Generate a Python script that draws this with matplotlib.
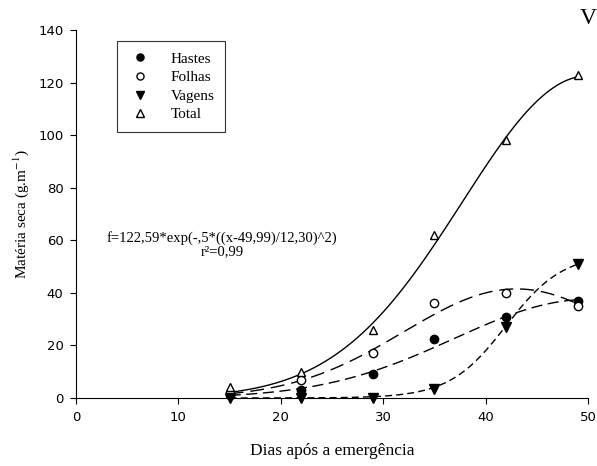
import numpy as np
import matplotlib
matplotlib.use('Agg')
import matplotlib.pyplot as plt

# days after emergence
dias = [15, 22, 29, 35, 42, 49]
hastes = [1, 3, 9, 22.5, 31, 37]
folhas = [2, 7, 17, 36, 40, 35]
vagens = [0, 0, 0, 3.5, 27, 51]
total = [4, 10, 26, 62, 98, 123]

# fitted curve parameters (gaussian: a, x0, b ; logistic: a, x0, k)
p_total = [122.59, 49.99, 12.30]
p_hastes = [37.5, 50.0, 13.0]
p_folhas = [41.5, 43.0, 11.0]
p_vagens = [55.0, 42.0, 0.36]

def gauss(x, a, x0, b):
    return a * np.exp(-.5 * ((x - x0) / b) ** 2)

def logist(x, a, x0, k):
    return a / (1 + np.exp(-k * (x - x0)))

serif = 'Liberation Serif'
plt.rcParams['mathtext.fontset'] = 'stix'

fig = plt.figure(figsize=(5.97, 4.66), dpi=100)
ax = fig.add_axes([0.1273, 0.1459, 0.8577, 0.7897])

xx = np.linspace(15, 49, 200)
ax.plot(xx, gauss(xx, *p_total), color='k', lw=1)
ax.plot(xx, gauss(xx, *p_folhas), color='k', lw=1, ls=(0, (10, 5)))
ax.plot(xx, gauss(xx, *p_hastes), color='k', lw=1, ls=(0, (8, 4)))
ax.plot(xx, logist(xx, *p_vagens), color='k', lw=1, ls=(0, (5, 3)))

ax.plot(dias, hastes, 'o', color='k', ms=6, ls='', label='Hastes', clip_on=False)
ax.plot(dias, folhas, 'o', mfc='white', mec='k', ms=6, ls='', label='Folhas', clip_on=False)
ax.plot(dias, vagens, 'v', color='k', ms=7, ls='', label='Vagens', clip_on=False)
ax.plot(dias, total, '^', mfc='white', mec='k', ms=6, ls='', label='Total', clip_on=False)

ax.set_xlim(0, 50)
ax.set_ylim(0, 140)
ax.set_xticks([0, 10, 20, 30, 40, 50])
ax.set_yticks(range(0, 141, 20))
ax.tick_params(direction='out', labelsize=9.5, length=4, width=0.8, pad=5)
for s in ['top', 'right']:
    ax.spines[s].set_visible(False)

ax.set_xlabel('Dias após a emergência', family=serif, fontsize=12.5, labelpad=14)
ax.set_ylabel('Matéria seca (g.m$^{-1}$)', family=serif, fontsize=11, labelpad=5)

leg = ax.legend(loc='upper left', bbox_to_anchor=(0.065, 0.99), frameon=True, fancybox=False,
                edgecolor='k', prop={'family': serif, 'size': 11}, handletextpad=1.2,
                handlelength=1.6, borderpad=0.7, labelspacing=0.32, markerscale=0.85)
leg.get_frame().set_linewidth(0.8)

ax.text(0.285, 0.416, 'f=122,59*exp(-,5*((x-49,99)/12,30)^2)\nr²=0,99', transform=ax.transAxes,
        ha='center', va='center', family=serif, fontsize=10.5, multialignment='center',
        linespacing=1.0)
fig.text(0.985, 0.961, 'V', family=serif, fontsize=17, ha='center', va='center')

fig.savefig('out.png', dpi=100)
